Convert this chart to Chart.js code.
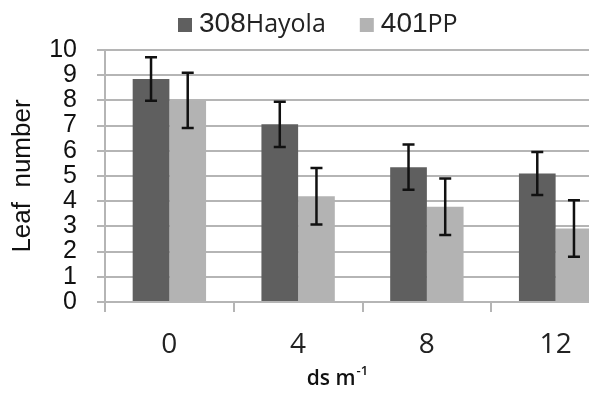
<!DOCTYPE html>
<html>
<head>
<meta charset="utf-8">
<script src="https://cdn.jsdelivr.net/npm/chart.js@4.4.1/dist/chart.umd.min.js"></script>
<style>
  html, body { margin: 0; padding: 0; background: #fff; }
  #wrap { width: 589px; height: 393px; overflow: hidden; position: relative; }
  canvas { display: block; }
</style>
</head>
<body>
<div id="wrap"><canvas id="leafChart" width="640" height="393"></canvas></div>
<script>
// Leaf number by salinity level (ds m-1), two cultivars, with error bars
const categories = ['0', '4', '8', '12'];
const hayolaValues = [8.85, 7.05, 5.35, 5.1];
const hayolaErrors = [0.86, 0.9, 0.9, 0.85];
const ppValues = [8.0, 4.2, 3.78, 2.92];
const ppErrors = [1.1, 1.12, 1.12, 1.12];
// legend text: big digits then smaller name
const legendParts = [['308', 'Hayola'], ['401', 'PP']];

const DARK = '#5f5f5f';
const LIGHT = '#b3b3b3';
const GRID = '#b5b5b5';
const ARIAL = '"Liberation Sans", Arial, sans-serif';

// draws the error bars on top of each bar
const errorBars = {
  id: 'errorBars',
  afterDatasetsDraw(chart) {
    const ctx = chart.ctx;
    const y = chart.scales.y;
    ctx.save();
    ctx.strokeStyle = '#111';
    ctx.lineWidth = 2.5;
    chart.data.datasets.forEach((ds, i) => {
      const meta = chart.getDatasetMeta(i);
      meta.data.forEach((bar, j) => {
        const v = ds.data[j];
        const e = ds.errors[j];
        const top = y.getPixelForValue(v + e);
        const bot = y.getPixelForValue(v - e);
        ctx.beginPath();
        ctx.moveTo(bar.x, top); ctx.lineTo(bar.x, bot);
        ctx.moveTo(bar.x - 6, top); ctx.lineTo(bar.x + 6, top);
        ctx.moveTo(bar.x - 6, bot); ctx.lineTo(bar.x + 6, bot);
        ctx.stroke();
      });
    });
    ctx.restore();
  }
};

// legend with mixed font sizes, like the original
const mixedLegend = {
  id: 'mixedLegend',
  afterDraw(chart) {
    const ctx = chart.ctx;
    let x = 178;
    const baseline = 32;
    ctx.save();
    ctx.textBaseline = 'alphabetic';
    chart.data.datasets.forEach((ds, i) => {
      ctx.fillStyle = ds.backgroundColor;
      ctx.fillRect(x, 18, 14, 14);
      x += 21;
      ctx.fillStyle = '#222';
      ctx.font = '28px ' + ARIAL;
      ctx.fillText(legendParts[i][0], x, baseline);
      x += ctx.measureText(legendParts[i][0]).width;
      ctx.font = '25px "Open Sans"';
      ctx.fillText(legendParts[i][1], x, baseline);
      x += ctx.measureText(legendParts[i][1]).width + 34;
    });
    ctx.restore();
  }
};

// x axis title with superscript
const xTitle = {
  id: 'xTitle',
  afterDraw(chart) {
    const ctx = chart.ctx;
    ctx.save();
    ctx.fillStyle = '#111';
    ctx.textBaseline = 'alphabetic';
    ctx.font = '600 21px "Open Sans"';
    const main = 'ds m';
    const w = ctx.measureText(main).width;
    ctx.font = '600 13px "Open Sans"';
    const sw = ctx.measureText('-1').width;
    const x = 337 - (w + sw) / 2;
    ctx.font = '600 21px "Open Sans"';
    ctx.fillText(main, x, 385);
    ctx.font = '600 13px "Open Sans"';
    ctx.fillText('-1', x + w + 1, 375);
    ctx.restore();
  }
};

new Chart(document.getElementById('leafChart'), {
  type: 'bar',
  data: {
    labels: categories,
    datasets: [
      { label: '308Hayola', data: hayolaValues, errors: hayolaErrors, backgroundColor: DARK, borderWidth: 0 },
      { label: '401PP', data: ppValues, errors: ppErrors, backgroundColor: LIGHT, borderWidth: 0 }
    ]
  },
  options: {
    responsive: false,
    animation: false,
    categoryPercentage: 0.57,
    barPercentage: 1.0,
    layout: { padding: { top: 50, left: 0, right: 20, bottom: 0 } },
    plugins: {
      legend: { display: false },
      tooltip: { enabled: false }
    },
    scales: {
      x: {
        afterFit(scale) { scale.height = 91; },
        grid: { drawOnChartArea: false, color: GRID, lineWidth: 2, tickLength: 10 },
        border: { color: GRID, width: 2 },
        ticks: { color: '#222', font: { family: '"Open Sans"', size: 28 }, padding: 16 }
      },
      y: {
        min: 0,
        max: 10,
        afterFit(scale) { scale.width = 105; },
        grid: { color: GRID, lineWidth: 2, tickLength: 8 },
        border: { color: GRID, width: 2 },
        ticks: { stepSize: 1, autoSkip: false, color: '#111', font: { family: ARIAL, size: 25, lineHeight: 1 }, padding: 20 },
        title: {
          display: true,
          text: 'Leaf  number',
          color: '#111',
          font: { family: ARIAL, size: 26 },
          padding: { top: 7, bottom: 0 }
        }
      }
    }
  },
  plugins: [errorBars, mixedLegend, xTitle]
});
</script>
</body>
</html>
